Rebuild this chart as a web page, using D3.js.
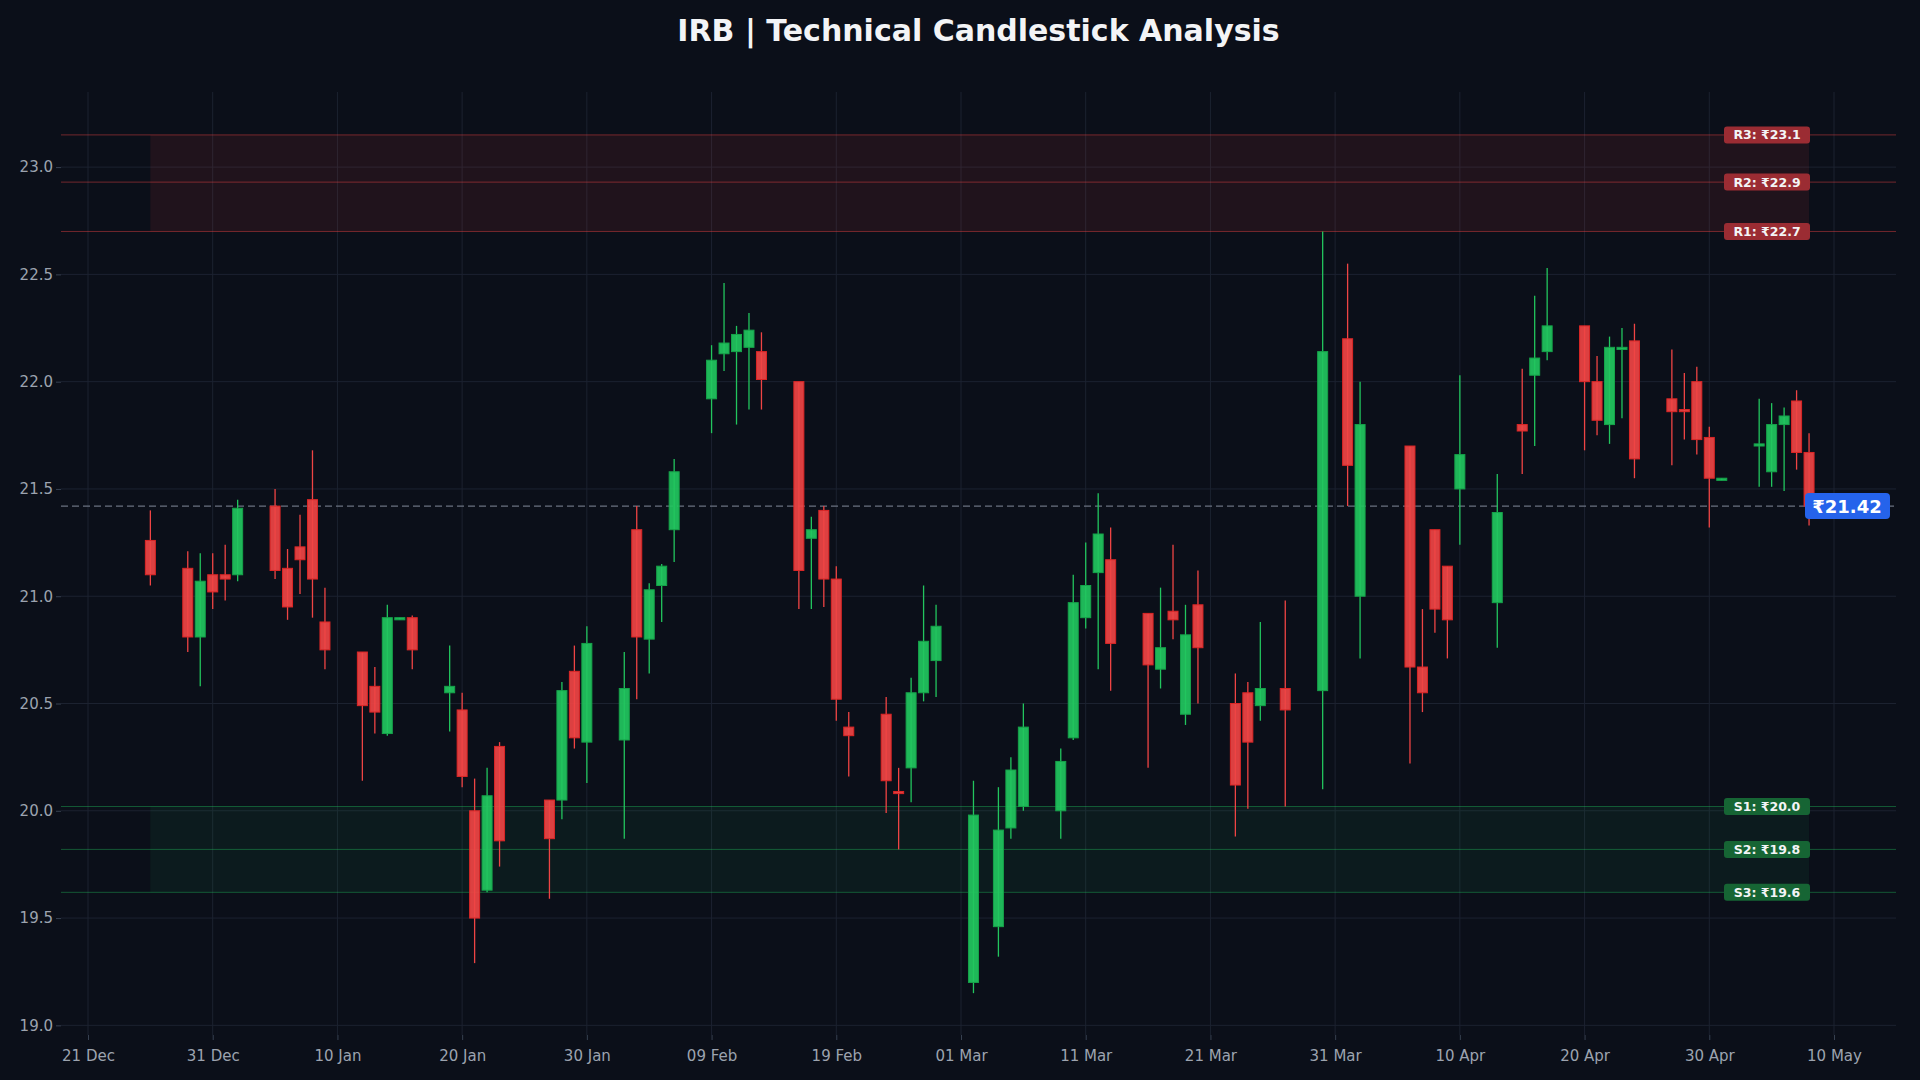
<!DOCTYPE html>
<html><head><meta charset="utf-8">
<script src="https://cdn.jsdelivr.net/npm/d3@7"></script>
<style>html,body{margin:0;background:#0b0f19;}svg{display:block;font-family:"DejaVu Sans",sans-serif;}</style>
</head><body><svg id="c" width="1920" height="1080"></svg>
<script>
const dates = ["2025-12-26","2025-12-29","2025-12-30","2025-12-31","2026-01-01","2026-01-02","2026-01-05","2026-01-06","2026-01-07","2026-01-08","2026-01-09","2026-01-12","2026-01-13","2026-01-14","2026-01-15","2026-01-16","2026-01-19","2026-01-20","2026-01-21","2026-01-22","2026-01-23","2026-01-27","2026-01-28","2026-01-29","2026-01-30","2026-02-02","2026-02-03","2026-02-04","2026-02-05","2026-02-06","2026-02-09","2026-02-10","2026-02-11","2026-02-12","2026-02-13","2026-02-16","2026-02-17","2026-02-18","2026-02-19","2026-02-20","2026-02-23","2026-02-24","2026-02-25","2026-02-26","2026-02-27","2026-03-02","2026-03-04","2026-03-05","2026-03-06","2026-03-09","2026-03-10","2026-03-11","2026-03-12","2026-03-13","2026-03-16","2026-03-17","2026-03-18","2026-03-19","2026-03-20","2026-03-23","2026-03-24","2026-03-25","2026-03-27","2026-03-30","2026-04-01","2026-04-02","2026-04-06","2026-04-07","2026-04-08","2026-04-09","2026-04-10","2026-04-13","2026-04-15","2026-04-16","2026-04-17","2026-04-20","2026-04-21","2026-04-22","2026-04-23","2026-04-24","2026-04-27","2026-04-28","2026-04-29","2026-04-30","2026-05-01","2026-05-04","2026-05-05","2026-05-06","2026-05-07","2026-05-08"];
const open  = [21.26,21.13,20.81,21.10,21.10,21.10,21.42,21.13,21.23,21.45,20.88,20.74,20.58,20.36,20.89,20.90,20.55,20.47,20.00,19.63,20.30,20.05,20.05,20.65,20.32,20.33,21.31,20.80,21.05,21.31,21.92,22.13,22.14,22.16,22.14,22.00,21.27,21.40,21.08,20.39,20.45,20.09,20.20,20.55,20.70,19.20,19.46,19.92,20.02,20.00,20.34,20.90,21.11,21.17,20.92,20.66,20.93,20.45,20.96,20.50,20.55,20.49,20.57,20.56,22.20,21.00,21.70,20.67,21.31,21.14,21.50,20.97,21.80,22.03,22.14,22.26,22.00,21.80,22.15,22.19,21.92,21.87,22.00,21.74,21.54,21.70,21.58,21.80,21.91,21.67];
const high  = [21.40,21.21,21.20,21.20,21.24,21.45,21.50,21.22,21.38,21.68,21.04,20.74,20.67,20.96,20.90,20.91,20.77,20.55,20.15,20.20,20.32,20.05,20.60,20.77,20.86,20.74,21.42,21.06,21.15,21.64,22.17,22.46,22.26,22.32,22.23,22.00,21.37,21.42,21.14,20.46,20.53,20.20,20.62,21.05,20.96,20.14,20.11,20.25,20.50,20.29,21.10,21.25,21.48,21.32,20.92,21.04,21.24,20.96,21.12,20.64,20.60,20.88,20.98,22.70,22.55,22.00,21.70,20.94,21.31,21.14,22.03,21.57,22.06,22.40,22.53,22.26,22.12,22.21,22.25,22.27,22.15,22.04,22.07,21.79,21.55,21.92,21.90,21.88,21.96,21.76];
const low   = [21.05,20.74,20.58,20.94,20.98,21.07,21.08,20.89,21.01,20.90,20.66,20.14,20.36,20.35,20.89,20.66,20.37,20.11,19.29,19.62,19.74,19.59,19.96,20.29,20.13,19.87,20.52,20.64,20.88,21.16,21.76,22.05,21.80,21.87,21.87,20.94,20.94,20.95,20.42,20.16,19.99,19.82,20.04,20.51,20.53,19.15,19.32,19.87,20.00,19.87,20.33,20.85,20.66,20.56,20.20,20.57,20.80,20.40,20.50,19.88,20.01,20.42,20.02,20.10,21.42,20.71,20.22,20.46,20.83,20.71,21.24,20.76,21.57,21.70,22.10,21.68,21.75,21.71,21.83,21.55,21.61,21.73,21.66,21.32,21.54,21.51,21.51,21.49,21.59,21.33];
const close = [21.10,20.81,21.07,21.02,21.08,21.41,21.12,20.95,21.17,21.08,20.75,20.49,20.46,20.90,20.90,20.75,20.58,20.16,19.50,20.07,19.86,19.87,20.56,20.34,20.78,20.57,20.81,21.03,21.14,21.58,22.10,22.18,22.22,22.24,22.01,21.12,21.31,21.08,20.52,20.35,20.14,20.08,20.55,20.79,20.86,19.98,19.91,20.19,20.39,20.23,20.97,21.05,21.29,20.78,20.68,20.76,20.89,20.82,20.76,20.12,20.32,20.57,20.47,22.14,21.61,21.80,20.67,20.55,20.94,20.89,21.66,21.39,21.77,22.11,22.26,22.00,21.82,22.16,22.16,21.64,21.86,21.86,21.73,21.55,21.55,21.71,21.80,21.84,21.67,21.42];
const resistance = [22.70,22.93,23.15];
const resistanceLabels = ["R1: ₹22.7","R2: ₹22.9","R3: ₹23.1"];
const support = [20.02,19.82,19.62];
const supportLabels = ["S1: ₹20.0","S2: ₹19.8","S3: ₹19.6"];
const currentPrice = 21.42;
const yTicks = [19.0,19.5,20.0,20.5,21.0,21.5,22.0,22.5,23.0];
const xTickDates = ["2025-12-21","2025-12-31","2026-01-10","2026-01-20","2026-01-30","2026-02-09","2026-02-19","2026-03-01","2026-03-11","2026-03-21","2026-03-31","2026-04-10","2026-04-20","2026-04-30","2026-05-10"];

const P = d3.timeParse("%Y-%m-%d");
const data = dates.map((d,i)=>({d:P(d),o:open[i],h:high[i],l:low[i],c:close[i]}));
const svg = d3.select("#c");
const L=61,R=1896,T=92,B=1035;
const x = d3.scaleTime().domain([P("2025-12-21"),P("2026-05-10")]).range([88,1834]);
const x0=x.invert(L), x1=x.invert(R);
x.domain([x0,x1]).range([L,R]);
const y = d3.scaleLinear().domain([18.955,23.35]).range([B,T]);

svg.append("rect").attr("width",1920).attr("height",1080).attr("fill","#0b0f19");
svg.append("text").attr("x",(L+R)/2).attr("y",41).attr("text-anchor","middle").attr("fill","#f3f4f6")
  .attr("font-size",30).attr("font-weight","bold").text("IRB | Technical Candlestick Analysis");

const g=svg.append("g");
g.selectAll(".gy").data(yTicks).join("line").attr("x1",L).attr("x2",R).attr("y1",d=>y(d)).attr("y2",d=>y(d)).attr("stroke","#1c2230").attr("stroke-width",1);
g.selectAll(".gx").data(xTickDates).join("line").attr("y1",T).attr("y2",B).attr("x1",d=>x(P(d))).attr("x2",d=>x(P(d))).attr("stroke","#1c2230").attr("stroke-width",1);

const xa=x(data[0].d), xb=x(data[data.length-1].d);
g.append("rect").attr("x",xa).attr("width",xb-xa).attr("y",y(d3.max(resistance))).attr("height",y(d3.min(resistance))-y(d3.max(resistance))).attr("fill","#ef4444").attr("opacity",0.09);
g.append("rect").attr("x",xa).attr("width",xb-xa).attr("y",y(d3.max(support))).attr("height",y(d3.min(support))-y(d3.max(support))).attr("fill","#22c55e").attr("opacity",0.07);
g.selectAll(".rl").data(resistance).join("line").attr("x1",L).attr("x2",R).attr("y1",d=>y(d)).attr("y2",d=>y(d)).attr("stroke","#ef4444").attr("stroke-opacity",0.45).attr("stroke-width",1);
g.selectAll(".sl").data(support).join("line").attr("x1",L).attr("x2",R).attr("y1",d=>y(d)).attr("y2",d=>y(d)).attr("stroke","#22c55e").attr("stroke-opacity",0.4).attr("stroke-width",1);

g.append("line").attr("x1",L).attr("x2",R).attr("y1",y(currentPrice)).attr("y2",y(currentPrice)).attr("stroke","#6b7280").attr("stroke-dasharray","7,4").attr("stroke-width",1.2);

const bw=10;
const cg=g.selectAll(".c").data(data).join("g");
cg.append("line").attr("x1",d=>x(d.d)).attr("x2",d=>x(d.d)).attr("y1",d=>y(d.h)).attr("y2",d=>y(d.l))
  .attr("stroke",d=>d.c>=d.o?"#22c55e":"#ef4444").attr("stroke-width",1.3);
cg.append("rect").attr("x",d=>x(d.d)-bw/2).attr("width",bw)
  .attr("y",d=>y(Math.max(d.o,d.c))).attr("height",d=>Math.max(2,Math.abs(y(d.o)-y(d.c))))
  .attr("fill",d=>d.c>=d.o?"#22c55e":"#ef4444").attr("fill-opacity",0.92)
  .attr("stroke",d=>d.c>=d.o?"#16a34a":"#dc2626").attr("stroke-width",1);

function badge(val,label,bg){
  const cx=1767, cy=y(val);
  const w=86,h=17;
  g.append("rect").attr("x",cx-w/2).attr("y",cy-h/2).attr("width",w).attr("height",h).attr("rx",3).attr("fill",bg);
  g.append("text").attr("x",cx).attr("y",cy+4.5).attr("text-anchor","middle").attr("fill","#f3f4f6").attr("font-size",12.5).attr("font-weight","bold").text(label);
}
resistance.forEach((v,i)=>badge(v,resistanceLabels[i],"#9b2c33"));
support.forEach((v,i)=>badge(v,supportLabels[i],"#166534"));
g.append("rect").attr("x",1805).attr("y",y(currentPrice)-13).attr("width",85).attr("height",26).attr("rx",4).attr("fill","#2563eb");
g.append("text").attr("x",1847).attr("y",y(currentPrice)+6.5).attr("text-anchor","middle").attr("fill","#fff").attr("font-size",18).attr("font-weight","bold").text("₹"+currentPrice.toFixed(2));

const fmt=d3.timeFormat("%d %b");
const ax=svg.append("g").attr("transform",`translate(0,${B})`).call(d3.axisBottom(x).tickValues(xTickDates.map(P)).tickFormat(fmt).tickSize(5));
const ay=svg.append("g").attr("transform",`translate(${L},0)`).call(d3.axisLeft(y).tickValues(yTicks).tickFormat(d3.format(".1f")).tickSize(5));
[ax,ay].forEach(a=>{a.select(".domain").remove();a.selectAll("line").attr("stroke","#374151");a.selectAll("text").attr("fill","#9ca3af").attr("font-size",15).attr("font-family","DejaVu Sans");});
ax.selectAll("text").attr("dy","1.2em");
</script></body></html>
